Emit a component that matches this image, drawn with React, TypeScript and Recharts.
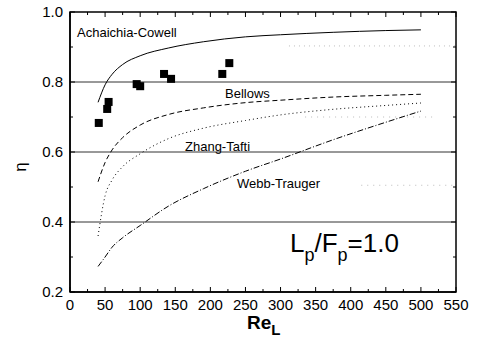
import React from 'react';
import {
  ComposedChart,
  Line,
  Scatter,
  XAxis,
  YAxis,
  ReferenceLine,
} from 'recharts';

// Re_L sample points shared by the four correlation curves
const reL = [40, 50, 60, 75, 100, 140, 190, 250, 300, 375, 450, 500];
const achaichiaCowell = [0.742, 0.792, 0.822, 0.85, 0.875, 0.897, 0.915, 0.929, 0.935, 0.942, 0.947, 0.949];
const bellows = [0.515, 0.57, 0.606, 0.641, 0.677, 0.707, 0.726, 0.741, 0.748, 0.757, 0.762, 0.765];
const zhangTafti = [0.36, 0.475, 0.52, 0.558, 0.595, 0.638, 0.668, 0.69, 0.706, 0.722, 0.733, 0.74];
const webbTrauger = [0.273, 0.3, 0.328, 0.355, 0.39, 0.445, 0.495, 0.545, 0.58, 0.635, 0.685, 0.717];

// measured points (squares)
const expReL = [41, 53, 55, 95, 100, 134, 144, 217, 227];
const expEta = [0.683, 0.723, 0.743, 0.794, 0.788, 0.823, 0.809, 0.823, 0.854];

const xTicks = [0, 25, 50, 75, 100, 125, 150, 175, 200, 225, 250, 275, 300, 325, 350, 375, 400, 425, 450, 475, 500, 525, 550];
const yTicks = [0.2, 0.3, 0.4, 0.5, 0.6, 0.7, 0.8, 0.9, 1.0];
const gridLines = [0.4, 0.6, 0.8];

const X_MIN = 0;
const X_MAX = 550;
const Y_MIN = 0.2;
const Y_MAX = 1.0;

// plot box (matches the chart margins + axis sizes below)
const W = 477;
const H = 345;
const PLOT_L = 70;
const PLOT_T = 12;
const PLOT_W = W - PLOT_L - 21;
const PLOT_H = H - PLOT_T - 53;

const FONT = '"Liberation Sans", Arial, Helvetica, sans-serif';

const toSeries = (ys: number[]) => reL.map((x, i) => ({ x, y: ys[i] }));
const expData = expReL.map((x, i) => ({ x, y: expEta[i] }));

const isMajorX = (v: number) => v % 50 === 0;
const isMajorY = (v: number) => Math.round(v * 10) % 2 === 0;

const px = (v: number) => PLOT_L + ((v - X_MIN) / (X_MAX - X_MIN)) * PLOT_W;
const py = (v: number) => PLOT_T + ((Y_MAX - v) / (Y_MAX - Y_MIN)) * PLOT_H;

const BottomTick = (props: any) => {
  const { x, y, payload } = props;
  if (!isMajorX(payload.value)) return <g />;
  return (
    <text x={x} y={y + 18} textAnchor="middle" fontSize={15} fontFamily={FONT} fill="#000">
      {payload.value}
    </text>
  );
};

const LeftTick = (props: any) => {
  const { x, y, payload } = props;
  if (!isMajorY(payload.value)) return <g />;
  return (
    <text x={x - 7} y={y + 5} textAnchor="end" fontSize={15} fontFamily={FONT} fill="#000">
      {payload.value.toFixed(1)}
    </text>
  );
};

const SquareDot = (props: any) => {
  const { cx, cy } = props;
  return <rect x={cx - 4} y={cy - 4} width={8} height={8} fill="#000" />;
};

export default function App() {
  return (
    <div style={{ position: 'absolute', left: 0, top: 0, width: W, height: H, background: '#fff' }}>
      <ComposedChart
        width={W}
        height={H}
        margin={{ top: 12, right: 21, bottom: 23, left: 0 }}
      >
        <XAxis
          dataKey="x"
          type="number"
          domain={[X_MIN, X_MAX]}
          ticks={xTicks}
          interval={0}
          height={30}
          tickSize={0}
          tickMargin={0}
          tickLine={false}
          tick={<BottomTick />}
          axisLine={{ stroke: '#000', strokeWidth: 1.5 }}
        />
        <YAxis
          type="number"
          domain={[Y_MIN, Y_MAX]}
          ticks={yTicks}
          interval={0}
          width={70}
          tickSize={0}
          tickMargin={0}
          tickLine={false}
          tick={<LeftTick />}
          axisLine={{ stroke: '#000', strokeWidth: 1.5 }}
        />
        {gridLines.map((v) => (
          <ReferenceLine key={v} y={v} stroke="#333" strokeWidth={1} />
        ))}
        <ReferenceLine segment={[{ x: 312, y: 0.903 }, { x: 550, y: 0.903 }]} stroke="#bbb" strokeDasharray="1 4" />
        <ReferenceLine segment={[{ x: 335, y: 0.7 }, { x: 520, y: 0.7 }]} stroke="#bbb" strokeDasharray="1 5" />
        <ReferenceLine segment={[{ x: 415, y: 0.505 }, { x: 545, y: 0.505 }]} stroke="#bbb" strokeDasharray="1 5" />
        <Line
          data={toSeries(achaichiaCowell)}
          dataKey="y"
          type="monotone"
          stroke="#000"
          strokeWidth={1}
          dot={false}
          isAnimationActive={false}
        />
        <Line
          data={toSeries(bellows)}
          dataKey="y"
          type="monotone"
          stroke="#000"
          strokeWidth={1}
          strokeDasharray="5 3"
          dot={false}
          isAnimationActive={false}
        />
        <Line
          data={toSeries(zhangTafti)}
          dataKey="y"
          type="monotone"
          stroke="#000"
          strokeWidth={1}
          strokeDasharray="1 3"
          dot={false}
          isAnimationActive={false}
        />
        <Line
          data={toSeries(webbTrauger)}
          dataKey="y"
          type="monotone"
          stroke="#000"
          strokeWidth={1}
          strokeDasharray="6 2 1 2"
          dot={false}
          isAnimationActive={false}
        />
        <Scatter data={expData} dataKey="y" shape={<SquareDot />} isAnimationActive={false} />
      </ComposedChart>
      <svg
        width={W}
        height={H}
        style={{ position: 'absolute', left: 0, top: 0, pointerEvents: 'none' }}
        fontFamily={FONT}
      >
        {/* frame with inward ticks on all four sides */}
        <rect x={PLOT_L} y={PLOT_T} width={PLOT_W} height={PLOT_H} fill="none" stroke="#000" strokeWidth={1.5} />
        {xTicks.map((v) => {
          const len = isMajorX(v) ? 5 : 3;
          return (
            <g key={`x${v}`}>
              <line x1={px(v)} x2={px(v)} y1={PLOT_T + PLOT_H} y2={PLOT_T + PLOT_H - len} stroke="#000" />
              <line x1={px(v)} x2={px(v)} y1={PLOT_T} y2={PLOT_T + len} stroke="#000" />
            </g>
          );
        })}
        {yTicks.map((v) => {
          const len = isMajorY(v) ? 5 : 3;
          return (
            <g key={`y${v}`}>
              <line x1={PLOT_L} x2={PLOT_L + len} y1={py(v)} y2={py(v)} stroke="#000" />
              <line x1={PLOT_L + PLOT_W} x2={PLOT_L + PLOT_W - len} y1={py(v)} y2={py(v)} stroke="#000" />
            </g>
          );
        })}
        <text x={77} y={37} fontSize={13}>Achaichia-Cowell</text>
        <text x={225} y={98} fontSize={13}>Bellows</text>
        <text x={185} y={151} fontSize={13}>Zhang-Tafti</text>
        <text x={237} y={188} fontSize={13}>Webb-Trauger</text>
        <text x={290} y={252} fontSize={26}>
          L<tspan dy={9} fontSize={18}>p</tspan>
          <tspan dy={-9}>/F</tspan>
          <tspan dy={9} fontSize={18}>p</tspan>
          <tspan dy={-9}>=1.0</tspan>
        </text>
        <text x={0} y={0} fontSize={17} transform="translate(26,167) rotate(-90)" textAnchor="middle">η</text>
        <text x={247} y={329} fontSize={19} fontWeight="bold">
          Re<tspan dy={6} fontSize={15}>L</tspan>
        </text>
      </svg>
    </div>
  );
}
